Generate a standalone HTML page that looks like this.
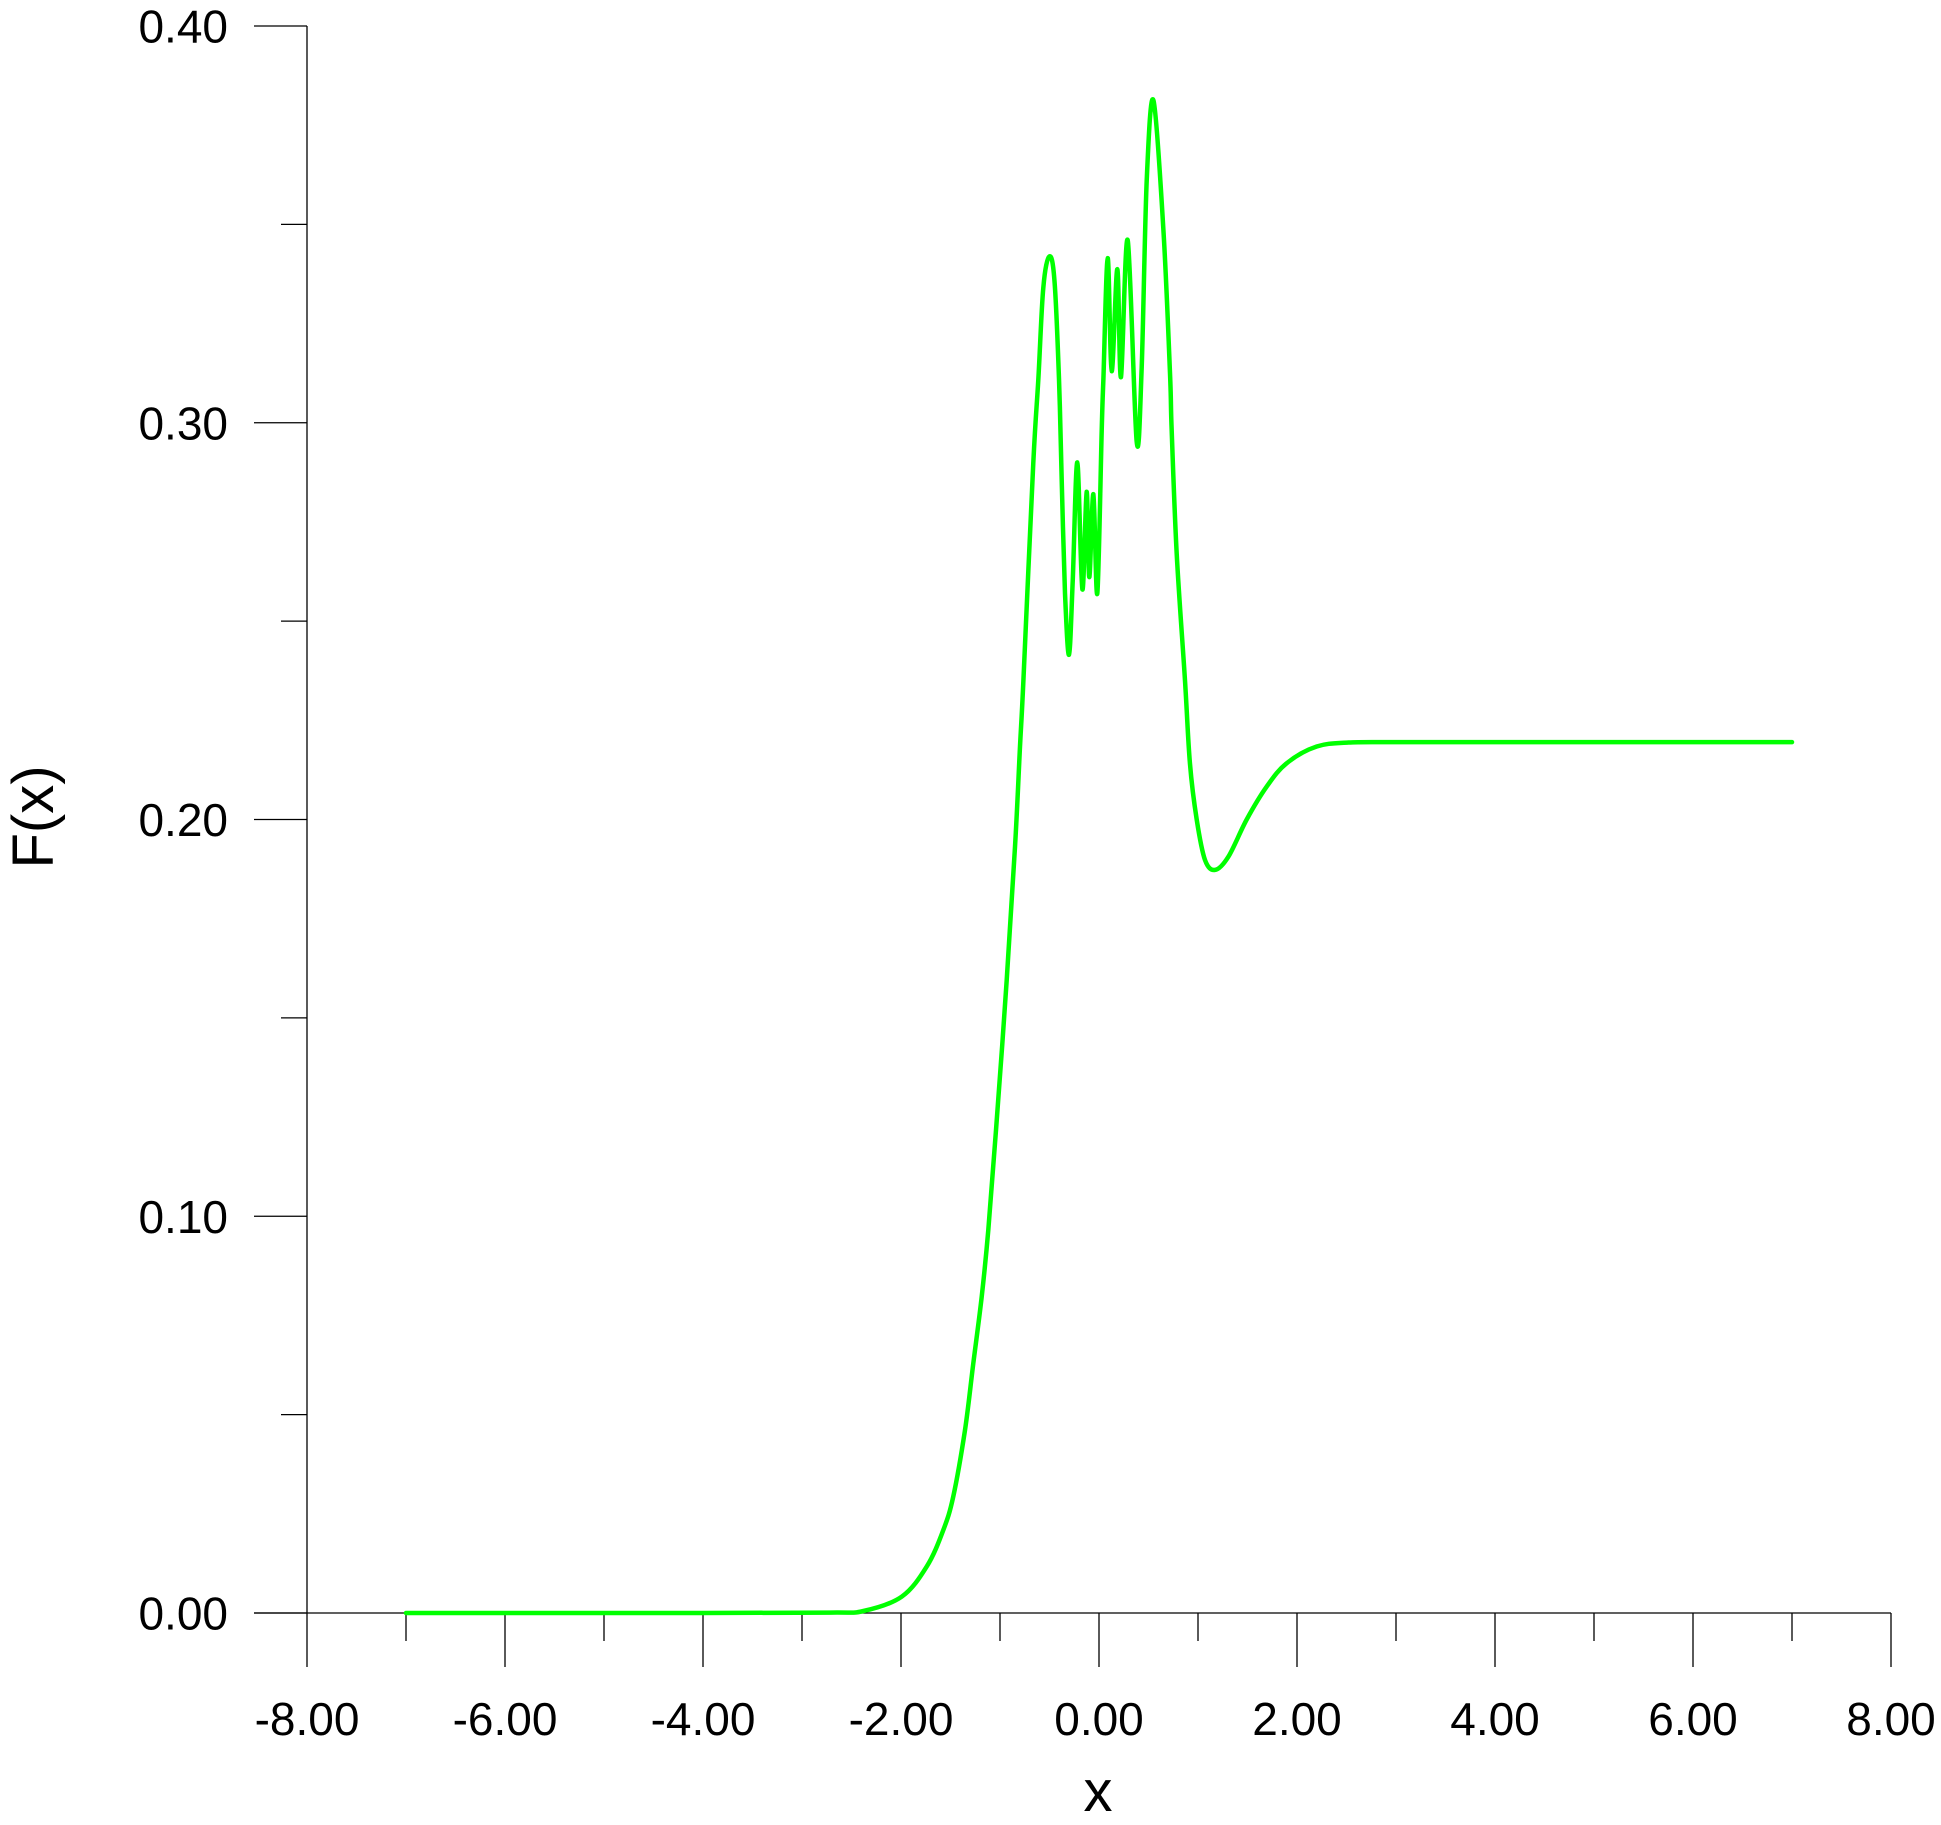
<!DOCTYPE html>
<html><head><meta charset="utf-8"><style>
html,body{margin:0;padding:0;background:#fff;}
svg{display:block;font-family:"Liberation Sans",Arial,sans-serif;}
</style></head><body>
<svg id="chart" width="1941" height="1825" viewBox="0 0 1941 1825" xmlns="http://www.w3.org/2000/svg">
<g id="axes"></g>
<g id="series"></g>
<text x="1098" y="1811" font-size="58" text-anchor="middle">x</text>
<text transform="translate(53,817) rotate(-90)" font-size="58" text-anchor="middle">F(x)</text>
</svg>
<script>
const xTicks = [-8,-6,-4,-2,0,2,4,6,8];
const xTickLabels = ["-8.00","-6.00","-4.00","-2.00","0.00","2.00","4.00","6.00","8.00"];
const xMinorTicks = [-7,-5,-3,-1,1,3,5,7];
const yTicks = [0,0.1,0.2,0.3,0.4];
const yTickLabels = ["0.00","0.10","0.20","0.30","0.40"];
const yMinorTicks = [0.05,0.15,0.25,0.35];
const seriesX = [-7,-4,-2.717,-2.38,-1.993,-1.74,-1.573,-1.472,-1.354,-1.27,-1.185,-1.118,-1.04,-0.932,-0.848,-0.798,-0.764,-0.664,-0.613,-0.563,-0.502,-0.45,-0.404,-0.377,-0.343,-0.303,-0.266,-0.219,-0.168,-0.125,-0.098,-0.057,-0.017,0.027,0.044,0.088,0.128,0.185,0.222,0.29,0.381,0.431,0.482,0.549,0.65,0.717,0.734,0.785,0.869,0.919,0.987,1.071,1.172,1.306,1.492,1.694,1.896,2.199,2.519,3,4,5,6,7];
const seriesY = [0,0,0.0001,0.0005,0.0041,0.0117,0.0209,0.0294,0.0461,0.0629,0.0797,0.0965,0.1217,0.1595,0.1931,0.2184,0.235,0.2899,0.3108,0.334,0.3419,0.336,0.311,0.2856,0.257,0.2415,0.26,0.29,0.258,0.2826,0.2611,0.282,0.257,0.298,0.311,0.3415,0.313,0.3387,0.3115,0.346,0.2952,0.314,0.361,0.3813,0.349,0.3125,0.298,0.267,0.235,0.214,0.2,0.1898,0.1873,0.1906,0.2,0.2083,0.2142,0.2184,0.2194,0.2195,0.2195,0.2195,0.2195,0.2195];

const X0=307, XS=99, Y0=1613, YS=3967.5;
function sx(v){return X0+(v+8)*XS;}
function sy(v){return Y0-v*YS;}
const NS="http://www.w3.org/2000/svg";
const axes=document.getElementById('axes');
function mk(tag,attrs,parent){const e=document.createElementNS(NS,tag);for(const k in attrs)e.setAttribute(k,attrs[k]);parent.appendChild(e);return e;}

let el=mk('line',{x1:X0,y1:sy(0.4),x2:X0,y2:Y0,stroke:'#000','stroke-width':1.3},axes);


el=mk('line',{x1:254,y1:Y0,x2:sx(8),y2:Y0,stroke:'#000','stroke-width':1.3},axes);



xTicks.forEach((t,i)=>{
  const x=sx(t);
  const l=mk('line',{x1:x,y1:Y0,x2:x,y2:1667,stroke:'#000','stroke-width':1.3},axes);
  
  
  const tx=mk('text',{x:x,y:1735,'font-size':46,'text-anchor':'middle'},axes);
  tx.textContent=xTickLabels[i];
  
  
});
xMinorTicks.forEach(t=>{
  const x=sx(t);
  const l=mk('line',{x1:x,y1:Y0,x2:x,y2:1641,stroke:'#000','stroke-width':1.3},axes);
  
  
});
yTicks.forEach((t,i)=>{
  const y=sy(t);
  const l=mk('line',{x1:254,y1:y,x2:X0,y2:y,stroke:'#000','stroke-width':1.3},axes);
  
  
  const tx=mk('text',{x:228,y:y+16.5,'font-size':46,'text-anchor':'end'},axes);
  tx.textContent=yTickLabels[i];
  
  
});
yMinorTicks.forEach(t=>{
  const y=sy(t);
  const l=mk('line',{x1:281,y1:y,x2:X0,y2:y,stroke:'#000','stroke-width':1.3},axes);
  
  
});

const P=seriesX.map((x,i)=>[sx(x),sy(seriesY[i])]);
let d='M'+P[0][0].toFixed(1)+','+P[0][1].toFixed(1);
for(let i=0;i<P.length-1;i++){
  const p0=P[Math.max(0,i-1)],p1=P[i],p2=P[i+1],p3=P[Math.min(P.length-1,i+2)];
  const t=0.5/3;
  const c1x=p1[0]+(p2[0]-p0[0])*t, c1y=p1[1]+(p2[1]-p0[1])*t;
  const c2x=p2[0]-(p3[0]-p1[0])*t, c2y=p2[1]-(p3[1]-p1[1])*t;
  d+=' C'+c1x.toFixed(1)+','+c1y.toFixed(1)+' '+c2x.toFixed(1)+','+c2y.toFixed(1)+' '+p2[0].toFixed(1)+','+p2[1].toFixed(1);
}
const pl=mk('path',{d:d,fill:'none',stroke:'#00ff00','stroke-width':4.5,'stroke-linejoin':'round','stroke-linecap':'round'},document.getElementById('series'));


</script>
</body></html>
